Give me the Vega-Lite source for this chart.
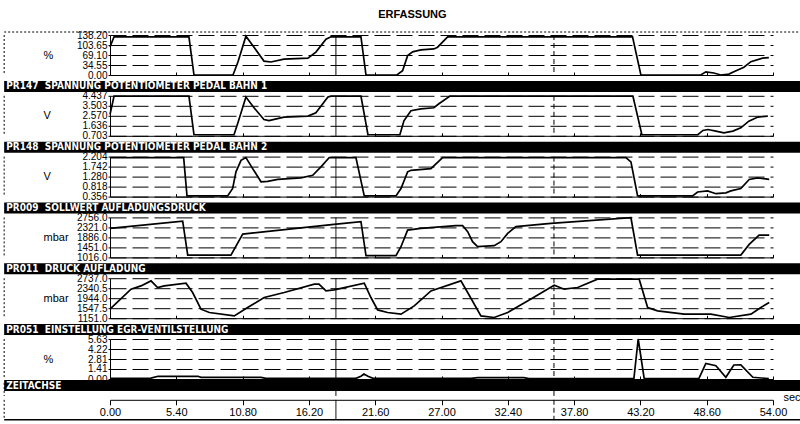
{
  "$schema": "https://vega.github.io/schema/vega-lite/v6.json",
  "description": "ERFASSUNG - recorded engine signals over time",
  "padding": {"left": 3, "top": 9, "right": 0, "bottom": 0},
  "title": {"text": "ERFASSUNG", "anchor": "middle", "dx": 10, "offset": 10},
  "datasets": {
    "signals": [
      {"ch": "p1", "t": 0, "v": 97}, {"ch": "p1", "t": 0.33, "v": 132}, {"ch": "p1", "t": 6.43, "v": 132}, {"ch": "p1", "t": 6.84, "v": 0},
      {"ch": "p1", "t": 10.02, "v": 0}, {"ch": "p1", "t": 10.42, "v": 45}, {"ch": "p1", "t": 11.07, "v": 134}, {"ch": "p1", "t": 11.73, "v": 96},
      {"ch": "p1", "t": 12.54, "v": 48}, {"ch": "p1", "t": 13.11, "v": 45}, {"ch": "p1", "t": 14.17, "v": 55}, {"ch": "p1", "t": 16.12, "v": 58},
      {"ch": "p1", "t": 16.77, "v": 79}, {"ch": "p1", "t": 17.59, "v": 124}, {"ch": "p1", "t": 18.0, "v": 132}, {"ch": "p1", "t": 20.44, "v": 132},
      {"ch": "p1", "t": 20.85, "v": 0}, {"ch": "p1", "t": 23.37, "v": 0}, {"ch": "p1", "t": 23.83, "v": 15}, {"ch": "p1", "t": 24.24, "v": 67},
      {"ch": "p1", "t": 24.65, "v": 80}, {"ch": "p1", "t": 25.32, "v": 87}, {"ch": "p1", "t": 26.38, "v": 90}, {"ch": "p1", "t": 26.68, "v": 96},
      {"ch": "p1", "t": 27.5, "v": 132}, {"ch": "p1", "t": 42.56, "v": 132}, {"ch": "p1", "t": 43.24, "v": 0}, {"ch": "p1", "t": 48.12, "v": 0},
      {"ch": "p1", "t": 48.53, "v": 11}, {"ch": "p1", "t": 49.18, "v": 7}, {"ch": "p1", "t": 49.75, "v": 0}, {"ch": "p1", "t": 50.41, "v": 3},
      {"ch": "p1", "t": 50.81, "v": 11}, {"ch": "p1", "t": 51.63, "v": 27}, {"ch": "p1", "t": 52.2, "v": 46}, {"ch": "p1", "t": 53.15, "v": 58},
      {"ch": "p1", "t": 53.66, "v": 60},

      {"ch": "p2", "t": 0, "v": 2.69}, {"ch": "p2", "t": 0.33, "v": 4.41}, {"ch": "p2", "t": 6.43, "v": 4.41}, {"ch": "p2", "t": 6.84, "v": 0.8},
      {"ch": "p2", "t": 10.1, "v": 0.8}, {"ch": "p2", "t": 10.42, "v": 1.92}, {"ch": "p2", "t": 11.07, "v": 4.32}, {"ch": "p2", "t": 11.73, "v": 3.32},
      {"ch": "p2", "t": 12.54, "v": 2.22}, {"ch": "p2", "t": 12.95, "v": 2.13}, {"ch": "p2", "t": 14.17, "v": 2.45}, {"ch": "p2", "t": 16.12, "v": 2.54},
      {"ch": "p2", "t": 16.77, "v": 2.85}, {"ch": "p2", "t": 17.75, "v": 4.32}, {"ch": "p2", "t": 18.0, "v": 4.41}, {"ch": "p2", "t": 20.44, "v": 4.41},
      {"ch": "p2", "t": 21.01, "v": 0.8}, {"ch": "p2", "t": 23.61, "v": 0.8}, {"ch": "p2", "t": 23.94, "v": 2.1}, {"ch": "p2", "t": 24.51, "v": 3.04},
      {"ch": "p2", "t": 25.32, "v": 3.22}, {"ch": "p2", "t": 26.38, "v": 3.32}, {"ch": "p2", "t": 26.79, "v": 3.69}, {"ch": "p2", "t": 27.69, "v": 4.41},
      {"ch": "p2", "t": 42.59, "v": 4.41}, {"ch": "p2", "t": 43.32, "v": 0.8}, {"ch": "p2", "t": 47.88, "v": 0.8}, {"ch": "p2", "t": 48.29, "v": 1.2},
      {"ch": "p2", "t": 48.7, "v": 1.29}, {"ch": "p2", "t": 49.35, "v": 1.14}, {"ch": "p2", "t": 50.0, "v": 0.98}, {"ch": "p2", "t": 50.73, "v": 1.14},
      {"ch": "p2", "t": 51.38, "v": 1.45}, {"ch": "p2", "t": 52.03, "v": 2.07}, {"ch": "p2", "t": 52.77, "v": 2.45}, {"ch": "p2", "t": 53.58, "v": 2.54},

      {"ch": "p3", "t": 0, "v": 2.16}, {"ch": "p3", "t": 6.0, "v": 2.16}, {"ch": "p3", "t": 6.27, "v": 0.39}, {"ch": "p3", "t": 9.58, "v": 0.39},
      {"ch": "p3", "t": 9.99, "v": 0.73}, {"ch": "p3", "t": 10.26, "v": 1.5}, {"ch": "p3", "t": 10.67, "v": 2.03}, {"ch": "p3", "t": 11.07, "v": 2.16},
      {"ch": "p3", "t": 11.62, "v": 1.65}, {"ch": "p3", "t": 12.3, "v": 1.04}, {"ch": "p3", "t": 12.84, "v": 1.06}, {"ch": "p3", "t": 13.66, "v": 1.15},
      {"ch": "p3", "t": 15.55, "v": 1.22}, {"ch": "p3", "t": 16.51, "v": 1.34}, {"ch": "p3", "t": 17.18, "v": 1.73}, {"ch": "p3", "t": 17.86, "v": 2.16},
      {"ch": "p3", "t": 20.03, "v": 2.16}, {"ch": "p3", "t": 20.71, "v": 0.39}, {"ch": "p3", "t": 23.29, "v": 0.39}, {"ch": "p3", "t": 23.7, "v": 0.73},
      {"ch": "p3", "t": 24.24, "v": 1.5}, {"ch": "p3", "t": 24.51, "v": 1.57}, {"ch": "p3", "t": 26.14, "v": 1.65}, {"ch": "p3", "t": 27.09, "v": 2.16},
      {"ch": "p3", "t": 42.02, "v": 2.16}, {"ch": "p3", "t": 42.43, "v": 1.96}, {"ch": "p3", "t": 42.97, "v": 0.39}, {"ch": "p3", "t": 47.45, "v": 0.39},
      {"ch": "p3", "t": 47.86, "v": 0.57}, {"ch": "p3", "t": 48.67, "v": 0.62}, {"ch": "p3", "t": 49.35, "v": 0.49}, {"ch": "p3", "t": 50.16, "v": 0.53},
      {"ch": "p3", "t": 50.57, "v": 0.62}, {"ch": "p3", "t": 51.38, "v": 0.73}, {"ch": "p3", "t": 52.06, "v": 1.15}, {"ch": "p3", "t": 52.74, "v": 1.22},
      {"ch": "p3", "t": 53.69, "v": 1.15},

      {"ch": "p4", "t": 0, "v": 2278}, {"ch": "p4", "t": 5.92, "v": 2595}, {"ch": "p4", "t": 6.33, "v": 1116}, {"ch": "p4", "t": 9.85, "v": 1116},
      {"ch": "p4", "t": 10.81, "v": 2030}, {"ch": "p4", "t": 18.24, "v": 2450}, {"ch": "p4", "t": 20.44, "v": 2569}, {"ch": "p4", "t": 20.85, "v": 1090},
      {"ch": "p4", "t": 23.29, "v": 1090}, {"ch": "p4", "t": 23.7, "v": 1481}, {"ch": "p4", "t": 24.24, "v": 2204}, {"ch": "p4", "t": 25.32, "v": 2278},
      {"ch": "p4", "t": 28.18, "v": 2395}, {"ch": "p4", "t": 28.72, "v": 2400}, {"ch": "p4", "t": 29.13, "v": 2134}, {"ch": "p4", "t": 29.53, "v": 1699},
      {"ch": "p4", "t": 29.94, "v": 1481}, {"ch": "p4", "t": 31.29, "v": 1525}, {"ch": "p4", "t": 31.84, "v": 1699}, {"ch": "p4", "t": 32.39, "v": 2060},
      {"ch": "p4", "t": 33.06, "v": 2352}, {"ch": "p4", "t": 35.91, "v": 2495}, {"ch": "p4", "t": 42.43, "v": 2740}, {"ch": "p4", "t": 42.97, "v": 1116},
      {"ch": "p4", "t": 51.38, "v": 1116}, {"ch": "p4", "t": 52.06, "v": 1582}, {"ch": "p4", "t": 52.87, "v": 1986}, {"ch": "p4", "t": 53.69, "v": 1986},

      {"ch": "p5", "t": 0, "v": 1508}, {"ch": "p5", "t": 1.71, "v": 2301}, {"ch": "p5", "t": 2.52, "v": 2432}, {"ch": "p5", "t": 3.34, "v": 2630},
      {"ch": "p5", "t": 3.88, "v": 2368}, {"ch": "p5", "t": 4.42, "v": 2432}, {"ch": "p5", "t": 6.19, "v": 2539}, {"ch": "p5", "t": 6.73, "v": 2170},
      {"ch": "p5", "t": 7.41, "v": 1508}, {"ch": "p5", "t": 8.09, "v": 1377}, {"ch": "p5", "t": 10.12, "v": 1242}, {"ch": "p5", "t": 11.21, "v": 1575},
      {"ch": "p5", "t": 12.56, "v": 1972}, {"ch": "p5", "t": 14.19, "v": 2170}, {"ch": "p5", "t": 16.64, "v": 2499}, {"ch": "p5", "t": 17.02, "v": 2499},
      {"ch": "p5", "t": 17.59, "v": 2233}, {"ch": "p5", "t": 18.26, "v": 2273}, {"ch": "p5", "t": 20.71, "v": 2539}, {"ch": "p5", "t": 21.25, "v": 1972},
      {"ch": "p5", "t": 21.8, "v": 1480}, {"ch": "p5", "t": 22.61, "v": 1377}, {"ch": "p5", "t": 23.7, "v": 1310}, {"ch": "p5", "t": 24.78, "v": 1639},
      {"ch": "p5", "t": 26.14, "v": 2233}, {"ch": "p5", "t": 28.58, "v": 2630}, {"ch": "p5", "t": 29.13, "v": 2170}, {"ch": "p5", "t": 30.21, "v": 1242},
      {"ch": "p5", "t": 31.29, "v": 1179}, {"ch": "p5", "t": 32.39, "v": 1377}, {"ch": "p5", "t": 34.01, "v": 1837}, {"ch": "p5", "t": 36.18, "v": 2459},
      {"ch": "p5", "t": 36.99, "v": 2301}, {"ch": "p5", "t": 38.09, "v": 2368}, {"ch": "p5", "t": 39.71, "v": 2697}, {"ch": "p5", "t": 43.1, "v": 2697},
      {"ch": "p5", "t": 43.79, "v": 1575}, {"ch": "p5", "t": 44.6, "v": 1440}, {"ch": "p5", "t": 46.77, "v": 1310}, {"ch": "p5", "t": 48.94, "v": 1310},
      {"ch": "p5", "t": 50.43, "v": 1179}, {"ch": "p5", "t": 52.2, "v": 1310}, {"ch": "p5", "t": 53.01, "v": 1575}, {"ch": "p5", "t": 53.69, "v": 1773},

      {"ch": "p6", "t": 0, "v": 0.1}, {"ch": "p6", "t": 3.34, "v": 0.12}, {"ch": "p6", "t": 3.91, "v": 0.38}, {"ch": "p6", "t": 7.17, "v": 0.38},
      {"ch": "p6", "t": 7.41, "v": 0.24}, {"ch": "p6", "t": 12.3, "v": 0.24}, {"ch": "p6", "t": 12.7, "v": 0.1}, {"ch": "p6", "t": 20.03, "v": 0.1},
      {"ch": "p6", "t": 20.44, "v": 0.4}, {"ch": "p6", "t": 20.68, "v": 0.7}, {"ch": "p6", "t": 21.01, "v": 0.4}, {"ch": "p6", "t": 21.42, "v": 0.1},
      {"ch": "p6", "t": 29.4, "v": 0.1}, {"ch": "p6", "t": 29.97, "v": 0.2}, {"ch": "p6", "t": 33.71, "v": 0.2}, {"ch": "p6", "t": 34.12, "v": 0.05},
      {"ch": "p6", "t": 42.67, "v": 0.05}, {"ch": "p6", "t": 43.02, "v": 5.63}, {"ch": "p6", "t": 43.51, "v": 0.05}, {"ch": "p6", "t": 47.96, "v": 0.05},
      {"ch": "p6", "t": 48.53, "v": 2.2}, {"ch": "p6", "t": 49.35, "v": 1.88}, {"ch": "p6", "t": 50.16, "v": 0.24}, {"ch": "p6", "t": 50.81, "v": 1.97},
      {"ch": "p6", "t": 51.38, "v": 2.0}, {"ch": "p6", "t": 52.36, "v": 0.24}, {"ch": "p6", "t": 53.66, "v": 0.05}
    ],
    "cursors": [
      {"t": 18.4, "kind": "solid"},
      {"t": 36.16, "kind": "dashed"},
      {"t": -8.62, "kind": "frame"}
    ]
  },
  "vconcat": [
    {
      "width": 663, "height": 40,
      "resolve": {"scale": {"y": "independent"}, "axis": {"y": "independent"}},
      "layer": [
        {"data": {"name": "cursors"}, "mark": {"type": "rule", "color": "black", "strokeWidth": 1},
         "encoding": {"x": {"field": "t", "type": "quantitative"},
                      "strokeDash": {"field": "kind", "type": "nominal", "legend": null, "scale": {"domain": ["solid", "dashed", "frame"], "range": [[1, 0], [5, 3], [2, 2]]}}}},
        {"data": {"name": "signals"}, "transform": [{"filter": "datum.ch == 'p1'"}],
         "mark": {"type": "line", "color": "black", "strokeWidth": 1.7},
         "encoding": {
           "x": {"field": "t", "type": "quantitative", "scale": {"domain": [0, 54], "nice": false, "zero": false},
                 "axis": {"title": null, "labels": false, "grid": false, "tickSize": -3, "values": [0, 5.4, 10.8, 16.2, 21.6, 27, 32.4, 37.8, 43.2, 48.6, 54]}},
           "y": {"field": "v", "type": "quantitative", "scale": {"domain": [0, 138.2], "nice": false, "zero": false},
                 "axis": {"orient": "left", "title": "%", "values": [0, 34.55, 69.1, 103.65, 138.2], "format": ".2f"}}
         }},
        {"data": {"values": [{}]}, "mark": {"type": "rule", "color": "black", "strokeDash": [2, 2]},
         "encoding": {"x": {"datum": -8.62, "type": "quantitative"}, "x2": {"datum": 56.25},
                      "y": {"datum": 43, "type": "quantitative", "scale": {"domain": [0, 40], "nice": false}, "axis": null}}}
      ]
    },
    {
      "width": 663, "height": 13,
      "data": {"values": [{"label": "PR147\u00a0\u00a0SPANNUNG POTENTIOMETER PEDAL BAHN 1"}]},
      "layer": [
        {"mark": {"type": "rect", "color": "black"},
         "encoding": {"x": {"datum": -8.62, "type": "quantitative", "scale": {"domain": [0, 54], "nice": false}, "axis": null}, "x2": {"datum": 56.25},
                      "y": {"datum": 0, "type": "quantitative", "scale": {"domain": [0, 13], "nice": false}, "axis": null}, "y2": {"datum": 11}}},
        {"mark": {"type": "text", "color": "white", "align": "left", "baseline": "middle", "fontWeight": "bold", "fontSize": 10, "font": "Liberation Sans Narrow, DejaVu Sans Condensed, sans-serif"},
         "encoding": {"x": {"datum": -8.45, "type": "quantitative"}, "y": {"datum": 5.5, "type": "quantitative"}, "text": {"field": "label"}}}
      ]
    },
    {
      "width": 663, "height": 40,
      "layer": [
        {"data": {"name": "cursors"}, "mark": {"type": "rule", "color": "black", "strokeWidth": 1},
         "encoding": {"x": {"field": "t", "type": "quantitative"},
                      "strokeDash": {"field": "kind", "type": "nominal", "legend": null, "scale": {"domain": ["solid", "dashed", "frame"], "range": [[1, 0], [5, 3], [2, 2]]}}}},
        {"data": {"name": "signals"}, "transform": [{"filter": "datum.ch == 'p2'"}],
         "mark": {"type": "line", "color": "black", "strokeWidth": 1.7},
         "encoding": {
           "x": {"field": "t", "type": "quantitative", "scale": {"domain": [0, 54], "nice": false, "zero": false},
                 "axis": {"title": null, "labels": false, "grid": false, "tickSize": -3, "values": [0, 5.4, 10.8, 16.2, 21.6, 27, 32.4, 37.8, 43.2, 48.6, 54]}},
           "y": {"field": "v", "type": "quantitative", "scale": {"domain": [0.703, 4.437], "nice": false, "zero": false},
                 "axis": {"title": "V", "values": [0.703, 1.636, 2.57, 3.503, 4.437], "format": ".3f"}}
         }}
      ]
    },
    {
      "width": 663, "height": 13,
      "data": {"values": [{"label": "PR148\u00a0\u00a0SPANNUNG POTENTIOMETER PEDAL BAHN 2"}]},
      "layer": [
        {"mark": {"type": "rect", "color": "black"},
         "encoding": {"x": {"datum": -8.62, "type": "quantitative", "scale": {"domain": [0, 54], "nice": false}, "axis": null}, "x2": {"datum": 56.25},
                      "y": {"datum": 0, "type": "quantitative", "scale": {"domain": [0, 13], "nice": false}, "axis": null}, "y2": {"datum": 11}}},
        {"mark": {"type": "text", "color": "white", "align": "left", "baseline": "middle", "fontWeight": "bold", "fontSize": 10, "font": "Liberation Sans Narrow, DejaVu Sans Condensed, sans-serif"},
         "encoding": {"x": {"datum": -8.45, "type": "quantitative"}, "y": {"datum": 5.5, "type": "quantitative"}, "text": {"field": "label"}}}
      ]
    },
    {
      "width": 663, "height": 40,
      "layer": [
        {"data": {"name": "cursors"}, "mark": {"type": "rule", "color": "black", "strokeWidth": 1},
         "encoding": {"x": {"field": "t", "type": "quantitative"},
                      "strokeDash": {"field": "kind", "type": "nominal", "legend": null, "scale": {"domain": ["solid", "dashed", "frame"], "range": [[1, 0], [5, 3], [2, 2]]}}}},
        {"data": {"name": "signals"}, "transform": [{"filter": "datum.ch == 'p3'"}],
         "mark": {"type": "line", "color": "black", "strokeWidth": 1.7},
         "encoding": {
           "x": {"field": "t", "type": "quantitative", "scale": {"domain": [0, 54], "nice": false, "zero": false},
                 "axis": {"title": null, "labels": false, "grid": false, "tickSize": -3, "values": [0, 5.4, 10.8, 16.2, 21.6, 27, 32.4, 37.8, 43.2, 48.6, 54]}},
           "y": {"field": "v", "type": "quantitative", "scale": {"domain": [0.356, 2.204], "nice": false, "zero": false},
                 "axis": {"title": "V", "values": [0.356, 0.818, 1.28, 1.742, 2.204], "format": ".3f"}}
         }}
      ]
    },
    {
      "width": 663, "height": 13,
      "data": {"values": [{"label": "PR009\u00a0\u00a0SOLLWERT AUFLADUNGSDRUCK"}]},
      "layer": [
        {"mark": {"type": "rect", "color": "black"},
         "encoding": {"x": {"datum": -8.62, "type": "quantitative", "scale": {"domain": [0, 54], "nice": false}, "axis": null}, "x2": {"datum": 56.25},
                      "y": {"datum": 0, "type": "quantitative", "scale": {"domain": [0, 13], "nice": false}, "axis": null}, "y2": {"datum": 11}}},
        {"mark": {"type": "text", "color": "white", "align": "left", "baseline": "middle", "fontWeight": "bold", "fontSize": 10, "font": "Liberation Sans Narrow, DejaVu Sans Condensed, sans-serif"},
         "encoding": {"x": {"datum": -8.45, "type": "quantitative"}, "y": {"datum": 5.5, "type": "quantitative"}, "text": {"field": "label"}}}
      ]
    },
    {
      "width": 663, "height": 40,
      "layer": [
        {"data": {"name": "cursors"}, "mark": {"type": "rule", "color": "black", "strokeWidth": 1},
         "encoding": {"x": {"field": "t", "type": "quantitative"},
                      "strokeDash": {"field": "kind", "type": "nominal", "legend": null, "scale": {"domain": ["solid", "dashed", "frame"], "range": [[1, 0], [5, 3], [2, 2]]}}}},
        {"data": {"name": "signals"}, "transform": [{"filter": "datum.ch == 'p4'"}],
         "mark": {"type": "line", "color": "black", "strokeWidth": 1.7},
         "encoding": {
           "x": {"field": "t", "type": "quantitative", "scale": {"domain": [0, 54], "nice": false, "zero": false},
                 "axis": {"title": null, "labels": false, "grid": false, "tickSize": -3, "values": [0, 5.4, 10.8, 16.2, 21.6, 27, 32.4, 37.8, 43.2, 48.6, 54]}},
           "y": {"field": "v", "type": "quantitative", "scale": {"domain": [1016, 2756], "nice": false, "zero": false},
                 "axis": {"title": "mbar", "values": [1016, 1451, 1886, 2321, 2756], "format": ".1f"}}
         }}
      ]
    },
    {
      "width": 663, "height": 13,
      "data": {"values": [{"label": "PR011\u00a0\u00a0DRUCK AUFLADUNG"}]},
      "layer": [
        {"mark": {"type": "rect", "color": "black"},
         "encoding": {"x": {"datum": -8.62, "type": "quantitative", "scale": {"domain": [0, 54], "nice": false}, "axis": null}, "x2": {"datum": 56.25},
                      "y": {"datum": 0, "type": "quantitative", "scale": {"domain": [0, 13], "nice": false}, "axis": null}, "y2": {"datum": 11}}},
        {"mark": {"type": "text", "color": "white", "align": "left", "baseline": "middle", "fontWeight": "bold", "fontSize": 10, "font": "Liberation Sans Narrow, DejaVu Sans Condensed, sans-serif"},
         "encoding": {"x": {"datum": -8.45, "type": "quantitative"}, "y": {"datum": 5.5, "type": "quantitative"}, "text": {"field": "label"}}}
      ]
    },
    {
      "width": 663, "height": 40,
      "layer": [
        {"data": {"name": "cursors"}, "mark": {"type": "rule", "color": "black", "strokeWidth": 1},
         "encoding": {"x": {"field": "t", "type": "quantitative"},
                      "strokeDash": {"field": "kind", "type": "nominal", "legend": null, "scale": {"domain": ["solid", "dashed", "frame"], "range": [[1, 0], [5, 3], [2, 2]]}}}},
        {"data": {"name": "signals"}, "transform": [{"filter": "datum.ch == 'p5'"}],
         "mark": {"type": "line", "color": "black", "strokeWidth": 1.7},
         "encoding": {
           "x": {"field": "t", "type": "quantitative", "scale": {"domain": [0, 54], "nice": false, "zero": false},
                 "axis": {"title": null, "labels": false, "grid": false, "tickSize": -3, "values": [0, 5.4, 10.8, 16.2, 21.6, 27, 32.4, 37.8, 43.2, 48.6, 54]}},
           "y": {"field": "v", "type": "quantitative", "scale": {"domain": [1151, 2737], "nice": false, "zero": false},
                 "axis": {"title": "mbar", "values": [1151, 1547.5, 1944, 2340.5, 2737], "format": ".1f"}}
         }}
      ]
    },
    {
      "width": 663, "height": 13,
      "data": {"values": [{"label": "PR051\u00a0\u00a0EINSTELLUNG EGR-VENTILSTELLUNG"}]},
      "layer": [
        {"mark": {"type": "rect", "color": "black"},
         "encoding": {"x": {"datum": -8.62, "type": "quantitative", "scale": {"domain": [0, 54], "nice": false}, "axis": null}, "x2": {"datum": 56.25},
                      "y": {"datum": 0, "type": "quantitative", "scale": {"domain": [0, 13], "nice": false}, "axis": null}, "y2": {"datum": 11}}},
        {"mark": {"type": "text", "color": "white", "align": "left", "baseline": "middle", "fontWeight": "bold", "fontSize": 10, "font": "Liberation Sans Narrow, DejaVu Sans Condensed, sans-serif"},
         "encoding": {"x": {"datum": -8.45, "type": "quantitative"}, "y": {"datum": 5.5, "type": "quantitative"}, "text": {"field": "label"}}}
      ]
    },
    {
      "width": 663, "height": 40,
      "layer": [
        {"data": {"name": "cursors"}, "mark": {"type": "rule", "color": "black", "strokeWidth": 1},
         "encoding": {"x": {"field": "t", "type": "quantitative"},
                      "strokeDash": {"field": "kind", "type": "nominal", "legend": null, "scale": {"domain": ["solid", "dashed", "frame"], "range": [[1, 0], [5, 3], [2, 2]]}}}},
        {"data": {"name": "signals"}, "transform": [{"filter": "datum.ch == 'p6'"}],
         "mark": {"type": "line", "color": "black", "strokeWidth": 1.7},
         "encoding": {
           "x": {"field": "t", "type": "quantitative", "scale": {"domain": [0, 54], "nice": false, "zero": false},
                 "axis": {"title": null, "labels": false, "grid": false, "tickSize": -3, "values": [0, 5.4, 10.8, 16.2, 21.6, 27, 32.4, 37.8, 43.2, 48.6, 54]}},
           "y": {"field": "v", "type": "quantitative", "scale": {"domain": [0, 5.63], "nice": false, "zero": false},
                 "axis": {"title": "%", "values": [0, 1.41, 2.81, 4.22, 5.63], "format": ".2f"}}
         }}
      ]
    },
    {
      "width": 663, "height": 13,
      "data": {"values": [{"label": "ZEITACHSE"}]},
      "layer": [
        {"data": {"name": "cursors"}, "mark": {"type": "rule", "color": "black", "strokeWidth": 1},
         "encoding": {"x": {"field": "t", "type": "quantitative", "scale": {"domain": [0, 54], "nice": false}, "axis": null},
                      "strokeDash": {"field": "kind", "type": "nominal", "legend": null, "scale": {"domain": ["solid", "dashed", "frame"], "range": [[1, 0], [5, 3], [2, 2]]}}}},
        {"mark": {"type": "rect", "color": "black"},
         "encoding": {"x": {"datum": -8.62, "type": "quantitative"}, "x2": {"datum": 56.25},
                      "y": {"datum": 4.9, "type": "quantitative", "scale": {"domain": [0, 13], "nice": false}, "axis": null}, "y2": {"datum": 15.9}}},
        {"mark": {"type": "text", "color": "white", "align": "left", "baseline": "middle", "fontWeight": "bold", "fontSize": 10, "font": "Liberation Sans Narrow, DejaVu Sans Condensed, sans-serif"},
         "encoding": {"x": {"datum": -8.45, "type": "quantitative"}, "y": {"datum": 10.4, "type": "quantitative"}, "text": {"field": "label"}}}
      ]
    },
    {
      "width": 663, "height": 20,
      "layer": [
        {"data": {"name": "cursors"}, "mark": {"type": "rule", "color": "black", "strokeWidth": 1},
         "encoding": {"x": {"field": "t", "type": "quantitative", "scale": {"domain": [0, 54], "nice": false, "zero": false},
                            "axis": {"orient": "bottom", "offset": -20, "values": [0, 5.4, 10.8, 16.2, 21.6, 27, 32.4, 37.8, 43.2, 48.6, 54], "format": ".2f",
                                     "tickSize": 5, "labelPadding": 2, "labelBaseline": "top", "labelFontSize": 11, "grid": false,
                                     "title": "sec", "titleX": 673, "titleY": -2, "titleAlign": "left", "titleBaseline": "middle", "titleFontWeight": "normal"}},
                      "strokeDash": {"field": "kind", "type": "nominal", "legend": null, "scale": {"domain": ["solid", "dashed", "frame"], "range": [[1, 0], [5, 3], [2, 2]]}}}},
        {"data": {"values": [{}]}, "mark": {"type": "rule", "color": "black", "strokeWidth": 1.5},
         "encoding": {"x": {"datum": -8.62, "type": "quantitative"}, "x2": {"datum": 56.25},
                      "y": {"datum": 0, "type": "quantitative", "scale": {"domain": [0, 20], "nice": false}, "axis": null}}}
      ]
    }
  ],
  "spacing": 3.9,
  "bounds": "flush",
  "config": {
    "view": {"stroke": null},
    "font": "Liberation Sans",
    "title": {"font": "Liberation Sans", "fontSize": 11, "fontWeight": "bold", "color": "black"},
    "axis": {
      "domainColor": "black", "tickColor": "black", "labelColor": "black", "titleColor": "black",
      "labelFont": "Liberation Sans", "titleFont": "Liberation Sans", "labelFontSize": 10, "titleFontSize": 11,
      "labelOverlap": false, "labelFlush": false
    },
    "axisY": {
      "grid": true, "gridColor": "black", "gridOpacity": 1, "gridDash": [16, 6], "gridWidth": 1,
      "tickSize": 2, "labelPadding": 1,
      "titleAngle": 0, "titleAlign": "left", "titleBaseline": "middle", "titleX": -67, "titleY": 20, "titleFontWeight": "normal"
    }
  }
}
